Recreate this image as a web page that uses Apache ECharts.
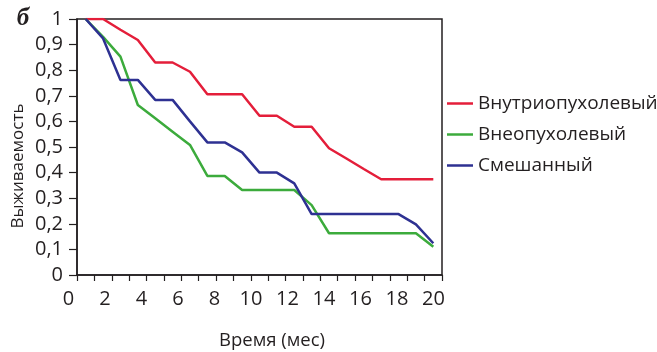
<!DOCTYPE html>
<html>
<head>
<meta charset="utf-8">
<script src="https://cdn.jsdelivr.net/npm/echarts@6/dist/echarts.min.js"></script>
<style>
  html, body { margin: 0; padding: 0; background: #fff; }
  #chart { width: 657px; height: 352px; }
</style>
</head>
<body>
<div id="chart"></div>
<script>
  // месяцы наблюдения (точки линий стоят в центрах категорий)
  const months = ['0', '1', '2', '3', '4', '5', '6', '7', '8', '9', '10',
    '11', '12', '13', '14', '15', '16', '17', '18', '19', '20'];
  // подписи оси времени
  const timeLabels = [0, 2, 4, 6, 8, 10, 12, 14, 16, 18, 20];

  const intraTumor = [1, 1, 0.958, 0.918, 0.83, 0.83, 0.794, 0.706, 0.706, 0.706, 0.622,
    0.622, 0.579, 0.579, 0.495, 0.455, 0.414, 0.374, 0.374, 0.374, 0.374];
  const extraTumor = [1, 0.93, 0.853, 0.664, 0.612, 0.56, 0.508, 0.387, 0.387, 0.332, 0.332,
    0.332, 0.332, 0.273, 0.163, 0.163, 0.163, 0.163, 0.163, 0.163, 0.11];
  const mixed = [1, 0.924, 0.762, 0.762, 0.684, 0.684, 0.6, 0.518, 0.518, 0.479, 0.4,
    0.4, 0.358, 0.238, 0.238, 0.238, 0.238, 0.238, 0.238, 0.198, 0.124];

  const seriesNames = ['Внутриопухолевый', 'Внеопухолевый', 'Смешанный'];
  const colors = ['#e41e3a', '#3cab3c', '#2e3192'];

  const font = '"Open Sans", "Noto Sans", sans-serif';
  const axisColor = '#231f20';

  const chart = echarts.init(document.getElementById('chart'));

  const lineSeries = (name, data, color) => ({
    name: name,
    type: 'line',
    xAxisIndex: 0,
    yAxisIndex: 0,
    data: data,
    symbol: 'none',
    lineStyle: { color: color, width: 2.5 },
    itemStyle: { color: color },
  });

  const option = {
    animation: false,
    grid: [
      // основной график с рамкой
      { left: 77, top: 19, width: 365, height: 256, show: true,
        borderColor: axisColor, borderWidth: 1.5, backgroundColor: 'transparent' },
      // сетка только для подписей оси времени
      { left: 68.5, top: 19, width: 365, height: 256 },
    ],
    xAxis: [
      {
        gridIndex: 0,
        type: 'category',
        data: months,
        boundaryGap: true,
        axisLine: { lineStyle: { color: axisColor, width: 1.5 } },
        axisTick: { show: true, interval: 0, length: 6, lineStyle: { color: axisColor, width: 1.2 } },
        axisLabel: { show: false },
      },
      {
        gridIndex: 1,
        type: 'value',
        min: 0,
        max: 20,
        interval: 2,
        axisLine: { show: false },
        axisTick: { show: false },
        splitLine: { show: false },
        axisLabel: {
          margin: 14,
          color: axisColor,
          fontFamily: font,
          fontSize: 20,
          formatter: (v) => (timeLabels.includes(v) ? String(v) : ''),
        },
      },
    ],
    yAxis: [
      {
        gridIndex: 0,
        type: 'value',
        min: 0,
        max: 1,
        interval: 0.1,
        axisLine: { show: true, lineStyle: { color: axisColor, width: 1.5 } },
        axisTick: { show: true, length: 8, lineStyle: { color: axisColor, width: 1.2 } },
        splitLine: { show: false },
        axisLabel: {
          margin: 14,
          color: axisColor,
          fontFamily: font,
          fontSize: 20,
          formatter: (v) => String(Math.round(v * 10) / 10).replace('.', ','),
        },
      },
      {
        gridIndex: 1,
        type: 'value',
        min: 0,
        max: 1,
        show: false,
      },
    ],
    legend: {
      orient: 'vertical',
      left: 447,
      top: 94,
      padding: 0,
      icon: 'rect',
      itemWidth: 26,
      itemHeight: 2.5,
      itemGap: 12,
      data: seriesNames,
      textStyle: { color: axisColor, fontFamily: font, fontSize: 19, padding: [0, 0, 0, 0] },
    },
    graphic: [
      {
        type: 'text',
        x: 23,
        y: 19,
        style: {
          text: 'б',
          fontFamily: '"Liberation Serif", "DejaVu Serif", serif',
          fontStyle: 'italic',
          fontWeight: 'bold',
          fontSize: 25,
          fill: axisColor,
          align: 'center',
          verticalAlign: 'middle',
        },
      },
      {
        type: 'text',
        x: 18,
        y: 166,
        rotation: Math.PI / 2,
        style: {
          text: 'Выживаемость',
          fontFamily: font,
          fontSize: 17,
          fill: axisColor,
          align: 'center',
          verticalAlign: 'middle',
        },
      },
      {
        type: 'text',
        x: 272,
        y: 341,
        style: {
          text: 'Время (мес)',
          fontFamily: font,
          fontSize: 18.5,
          fill: axisColor,
          align: 'center',
          verticalAlign: 'middle',
        },
      },
    ],
    series: [
      lineSeries(seriesNames[0], intraTumor, colors[0]),
      lineSeries(seriesNames[1], extraTumor, colors[1]),
      lineSeries(seriesNames[2], mixed, colors[2]),
    ],
  };

  chart.setOption(option);
</script>
</body>
</html>
